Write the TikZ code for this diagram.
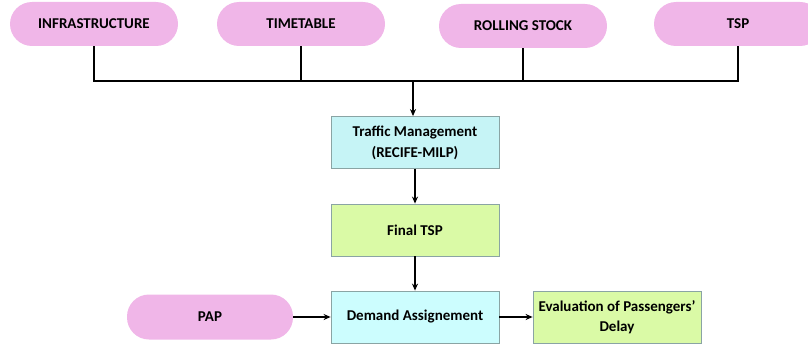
\documentclass[tikz,border=0pt]{standalone}
\usepackage{fontspec}
\setmainfont{Carlito}
\usetikzlibrary{arrows.meta,positioning}
\definecolor{pillpink}{HTML}{F0B6E8}
\definecolor{tmcyan}{HTML}{C6F4F6}
\definecolor{boxgreen}{HTML}{DAFAA6}
\definecolor{dacyan}{HTML}{CCFDFE}
\definecolor{boxedge}{HTML}{8AA4A4}
\tikzset{
  pill/.style={rounded corners=22pt, fill=pillpink, draw=none,
    minimum width=168pt, minimum height=44pt, font=\bfseries\fontsize{15}{18}\selectfont},
  procbox/.style={draw=boxedge, line width=0.8pt, minimum width=168pt, minimum height=52pt,
    inner sep=1pt, align=center, font=\bfseries\fontsize{15}{21}\selectfont},
  conn/.style={line width=1.4pt, black},
  arr/.style={conn, -{Stealth[length=7pt,width=6pt]}}
}
\begin{document}
\begin{tikzpicture}[x=1pt,y=-1pt]
\useasboundingbox (0,0) rectangle (808,345);
% input sources
\node[pill] (infra) at (94,24) {INFRASTRUCTURE};
\node[pill] (time) at (301,24) {TIMETABLE};
\node[pill] (roll) at (523,26) {ROLLING STOCK};
\node[pill] (tsp) at (738,24) {TSP};
\node[pill, minimum width=166pt, minimum height=45pt] (pap) at (210,317) {PAP};
% processing chain
\node[procbox, fill=tmcyan] (tm) at (415,142.5) {Traffic Management\\(RECIFE-MILP)};
\node[procbox, fill=boxgreen] (final) at (415,230) {Final TSP};
\node[procbox, fill=dacyan] (dem) at (415,317) {Demand Assignement};
\node[procbox, fill=boxgreen, font=\bfseries\fontsize{15}{20}\selectfont]
  (eval) at (617,317) {Evaluation of Passengers'\\Delay};
% collector bus
\coordinate (bus) at (413,81);
\draw[conn] (infra.south) |- (tsp.south |- bus) -- (tsp.south);
\draw[conn] (time.south) -- (time.south |- bus);
\draw[conn] (roll.south) -- (roll.south |- bus);
\draw[arr] (bus) -- (bus |- tm.north);
\draw[arr] (tm.south) -- (final.north);
\draw[arr] (final.south) -- (dem.north);
\draw[arr] (pap.east) -- (dem.west);
\draw[arr] (dem.east) -- (eval.west);
\end{tikzpicture}
\end{document}
